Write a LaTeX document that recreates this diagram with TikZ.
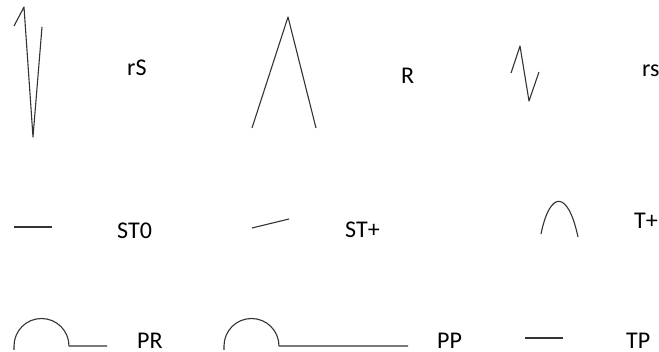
\documentclass[tikz,border=0pt]{standalone}
\usepackage{fontspec}
\setmainfont{Carlito}
\begin{document}
\begin{tikzpicture}[x=1pt, y=-1pt, wave/.style={black!80, line width=1.1pt, line join=round}, lbl/.style={anchor=base west, inner sep=0pt, font=\fontsize{24}{28}\selectfont}]
\useasboundingbox (0,0) rectangle (659,352);
% top row
\draw[wave] (14,26) -- (24,7) -- (33,137) -- (42,27);
\node[lbl] (lblrS) at (127,76) {rS};
\draw[wave] (252,128) -- (288,17) -- (316,128);
\node[lbl] (lblR) at (401,84) {R};
\draw[wave] (511,73) -- (520,46) -- (529,101) -- (539,72);
\node[lbl] (lblrs) at (642,77) {rs};
% middle row
\draw[wave] (14,227) -- (52,227);
\node[lbl] (lblSTzero) at (117,239) {ST0};
\draw[wave] (252,228) -- (289,219);
\node[lbl] (lblSTplus) at (345,238) {ST+};
\draw[wave] (541,234) .. controls (550,190) and (568,190) .. (578,237);
\node[lbl] (lblTplus) at (634,229) {T+};
% bottom row
\draw[wave] (14,350) -- (14,346) arc[start angle=180, end angle=0, radius=27.5pt] -- (107,346);
\node[lbl] (lblPR) at (137,349) {PR};
\draw[wave] (224,350) -- (224,346) arc[start angle=180, end angle=0, radius=27.5pt] -- (408,346);
\node[lbl] (lblPP) at (437,349) {PP};
\draw[wave] (525,338) -- (563,338);
\node[lbl] (lblTP) at (626,349) {TP};
\end{tikzpicture}
\end{document}
